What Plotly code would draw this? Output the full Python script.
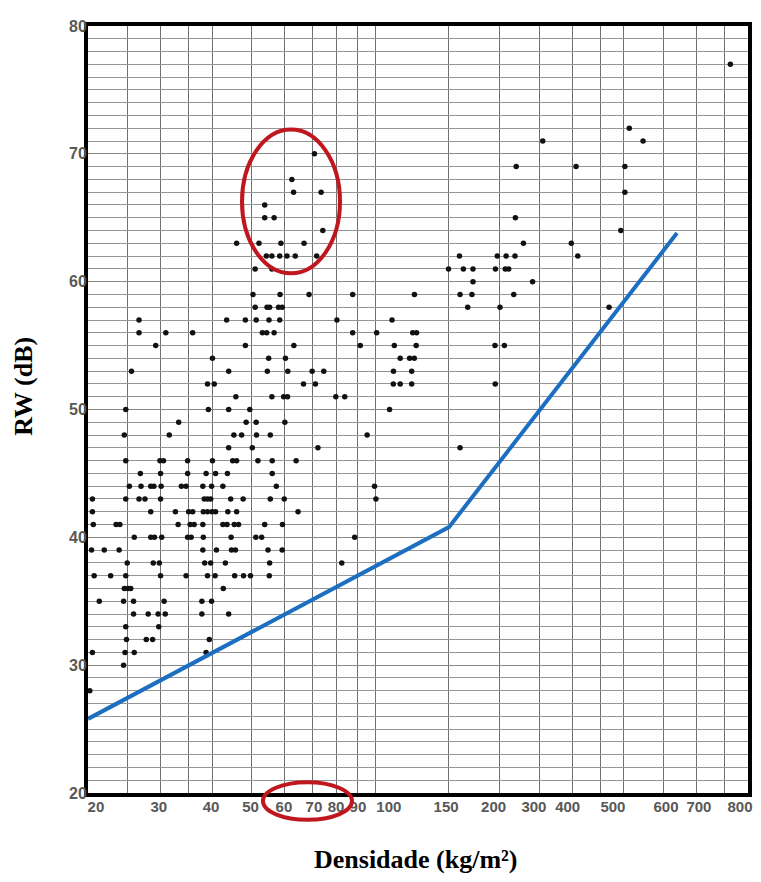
import plotly.graph_objects as go

# ---- data (density kg/m², RW dB) ----
RW_ROWS = [77, 72, 71, 70, 69, 68, 67, 66, 65, 64, 63, 62, 61, 60, 59, 58, 57, 56, 55, 54,
           53, 52, 51, 50, 49, 48, 47, 46, 45, 44, 43, 42, 41, 40, 39, 38, 37, 36, 35, 34,
           33, 32, 31, 30, 28]

DENSITY_ROWS = [
    [725],
    [412],
    [254, 445],
    [70.9],
    [219, 306, 402],
    [62.5],
    [63.1, 73.6, 402],
    [53.7],
    [53.7, 56.6, 218],
    [74.3, 393],
    [45.9, 52.0, 58.8, 66.9, 228, 298],
    [54.2, 55.9, 58.4, 60.8, 63.7, 71.8, 159.5, 197, 207, 217.5, 309],
    [50.9, 55.9, 150, 163, 172, 195, 206, 210],
    [172, 240],
    [50.3, 58.5, 68.8, 87.8, 124, 160, 171, 216],
    [50.9, 54.4, 55.2, 58.0, 59.2, 167, 200, 368],
    [26.6, 43.4, 48.2, 51.2, 55.0, 58.4, 80.4, 109.4],
    [26.6, 30.9, 35.9, 53.0, 54.3, 56.6, 87.8, 100.4, 122.8, 125.5],
    [29.2, 48.2, 63.2, 91.6, 110.8, 125.2, 194.5, 205],
    [40.1, 54.9, 60.3, 114.5, 120.7, 123.9],
    [25.5, 43.9, 54.5, 61.1, 70.0, 74.7, 110.3, 122.1],
    [39.0, 40.5, 66.7, 71.3, 110.2, 114.5, 122.1, 194.8],
    [45.7, 55.9, 59.7, 61.0, 79.9, 84.0],
    [24.7, 39.2, 43.9, 49.4, 107.9],
    [33.2, 48.4, 51.2, 60.1],
    [24.5, 31.5, 45.2, 47.2, 51.3, 55.4, 95.2],
    [43.9, 50.1, 72.3, 160],
    [24.7, 29.9, 30.5, 34.9, 40.1, 44.9, 45.9, 51.7, 56.0, 64.0],
    [26.8, 30.0, 34.9, 38.7, 40.8, 43.6, 56.0],
    [25.2, 26.9, 28.4, 28.9, 30.1, 33.7, 34.6, 38.0, 39.9, 42.5, 57.3, 99.2],
    [20.5, 24.7, 26.6, 27.5, 30.0, 38.3, 39.0, 39.7, 44.4, 47.6, 55.4, 59.9, 100.0],
    [20.5, 28.4, 32.6, 35.1, 35.9, 38.1, 39.0, 40.0, 40.8, 43.7, 45.9, 64.7],
    [20.6, 23.4, 23.9, 33.1, 35.4, 36.2, 38.0, 42.5, 43.5, 45.3, 46.4, 53.7, 59.3],
    [25.9, 28.4, 29.0, 30.2, 34.9, 35.6, 38.1, 44.5, 51.1, 52.8, 88.8],
    [20.4, 21.9, 23.8, 38.0, 41.0, 44.6, 45.6, 54.7, 59.2],
    [24.9, 28.8, 29.8, 38.4, 39.7, 43.1, 55.2, 82.6],
    [20.7, 22.7, 24.7, 30.0, 34.6, 39.0, 40.7, 45.4, 47.7, 49.6, 55.1],
    [24.5, 25.0, 25.4, 42.6],
    [21.3, 24.4, 25.8, 30.6, 37.8, 39.9],
    [25.8, 28.0, 29.6, 30.8, 37.8, 43.9],
    [24.7, 29.7],
    [24.8, 27.7, 28.7, 39.4],
    [20.5, 24.6, 25.9, 38.7],
    [24.4],
    [20.2],
]

# reference (mass-law style) line
LINE_DENSITY = [20, 150.4, 538]
LINE_RW = [25.8, 40.8, 63.8]

# axis labels as printed, and where they sit on the log axis
X_LABELS = ["20", "30", "40", "50", "60", "70", "80", "90", "100", "150",
            "200", "300", "400", "500", "600", "700", "800"]
X_LABEL_AT = [20.9, 29.7, 39.8, 49.6, 59.8, 70.7, 80, 90.4, 107.5, 148,
              193, 241.8, 292, 376, 506, 608, 765]
X_GRID = [25, 30, 35, 40, 50, 60, 70, 80, 90, 100, 150, 200, 250, 300, 350,
          400, 500, 600, 700]
Y_TICKS = [20, 30, 40, 50, 60, 70, 80]

xs, ys = [], []
for rw, row in zip(RW_ROWS, DENSITY_ROWS):
    for d in row:
        xs.append(d)
        ys.append(rw)

fig = go.Figure()
fig.add_trace(go.Scatter(x=xs, y=ys, mode="markers",
                         marker=dict(size=5.5, color="#111111"),
                         hoverinfo="skip", showlegend=False))
fig.add_trace(go.Scatter(x=LINE_DENSITY, y=LINE_RW, mode="lines",
                         line=dict(color="#1c6fc0", width=4),
                         hoverinfo="skip", showlegend=False))

RED = "#c0161d"
fig.add_shape(type="circle", xref="x", yref="y", x0=47.3, x1=81.8, y0=60.65, y1=71.9,
              line=dict(color=RED, width=4))
fig.add_shape(type="circle", xref="paper", yref="paper", x0=0.265, x1=0.40, y0=-0.035, y1=0.014,
              line=dict(color=RED, width=4))

x_tick_font = dict(family="Liberation Sans", size=15, color="#585858")
y_tick_font = dict(family="Liberation Sans", size=16, color="#585858")
title_font = dict(family="Liberation Serif", size=26, color="#000000")

fig.update_layout(
    width=761, height=882,
    margin=dict(l=80, r=21, t=10, b=97),
    paper_bgcolor="white", plot_bgcolor="white",
    showlegend=False,
    xaxis=dict(type="log", range=[1.30103, 2.90309],
               tickmode="array", tickvals=X_LABEL_AT,
               ticktext=["<b>%s</b>" % t for t in X_LABELS],
               tickfont=x_tick_font, ticks="", showgrid=False, zeroline=False,
               ticklabelstandoff=-3,
               showline=True, linewidth=4, linecolor="black", mirror=True,
               minor=dict(tickmode="array", tickvals=X_GRID, showgrid=True,
                          gridcolor="#707070", gridwidth=1.2, ticks="")),
    yaxis=dict(range=[20, 80], tickmode="array", tickvals=Y_TICKS,
               ticktext=["<b>%d</b>" % v for v in Y_TICKS],
               tickfont=y_tick_font, ticks="", showgrid=True, gridcolor="#888888", gridwidth=1,
               zeroline=False, ticklabelstandoff=-6,
               showline=True, linewidth=4, linecolor="black", mirror=True,
               minor=dict(dtick=1, showgrid=True, gridcolor="#959595", gridwidth=1, ticks="")),
    annotations=[
        dict(text="<b>RW (dB)</b>", xref="paper", yref="paper", x=-0.098, y=0.53,
             textangle=-90, showarrow=False, font=title_font,
             xanchor="center", yanchor="middle"),
        dict(text="<b>Densidade (kg/m²)</b>", xref="paper", yref="paper", x=0.497, y=-0.087,
             showarrow=False, font=title_font, xanchor="center", yanchor="middle"),
    ],
)

fig.write_html("out.html")
